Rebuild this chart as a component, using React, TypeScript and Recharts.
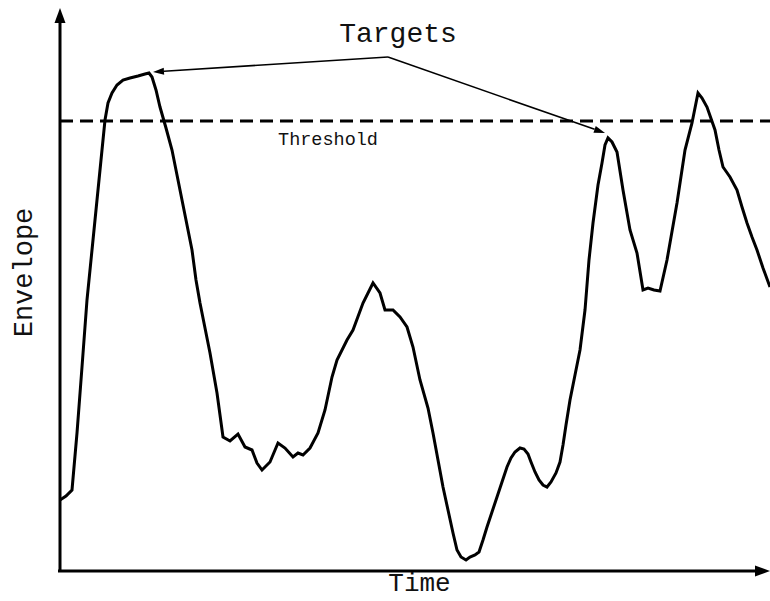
import React from 'react';
import { ComposedChart, Line, XAxis, YAxis, ReferenceLine, ReferenceDot } from 'recharts';

// Time samples (arbitrary units) and envelope amplitude
const time = [
  0, 6, 12, 17, 22, 27, 32, 37, 41, 45, 48, 52, 57, 63, 70, 78, 85, 89, 92, 96,
  100, 106, 112, 117, 122, 127, 132, 136, 140, 145, 150, 157, 160, 163, 170, 178, 185, 192, 197, 202,
  210, 218, 225, 233, 238, 243, 250, 258, 265, 272, 277, 287, 293, 303, 313, 320, 325, 333, 340, 347,
  353, 360, 368, 373, 378, 383, 388, 393, 397, 401, 406, 410, 415, 419, 423, 427, 432, 437, 442, 447,
  451, 455, 460, 464, 468, 471, 475, 479, 483, 487, 491, 496, 500, 503, 506, 510, 515, 520, 525, 529,
  533, 538, 542, 545, 548, 552, 557, 563, 570, 577, 583, 588, 594, 600, 607, 617, 625, 632, 638, 642,
  647, 655, 659, 663, 670, 677, 682, 687, 692, 697, 703, 710,
];
const envelope = [
  71, 75, 81, 138, 204, 271, 321, 371, 411, 451, 468, 478, 486, 491, 493, 495, 497, 498, 494, 481,
  464, 443, 421, 396, 371, 346, 321, 291, 268, 243, 218, 178, 156, 134, 130, 137, 124, 121, 108, 101,
  109, 128, 123, 114, 118, 116, 123, 138, 161, 194, 211, 231, 241, 268, 288, 278, 261, 261, 254, 244,
  224, 191, 163, 138, 111, 84, 61, 38, 21, 14, 11, 14, 16, 19, 31, 44, 59, 74, 89, 104,
  113, 119, 123, 122, 117, 109, 99, 91, 86, 84, 89, 98, 109, 126, 146, 171, 196, 221, 261, 311,
  348, 386, 408, 426, 433, 429, 419, 381, 341, 318, 281, 283, 281, 280, 311, 368, 421, 448, 478, 473,
  464, 441, 421, 404, 394, 381, 364, 348, 334, 321, 303, 284,
];

const thresholdLevel = 450;
const timeMax = 710;
const envelopeMax = 563;

// Annotation arrows: common start, tips pointing at the two targets
const targetArrowStart = { t: 328, e: 514 };
const targetArrowTips = [
  { t: 93, e: 499 },
  { t: 545, e: 438 },
];

const titleText = 'Targets';
const thresholdText = 'Threshold';
const xAxisText = 'Time';
const yAxisText = 'Envelope';

const data = time.map((t, i) => ({ time: t, envelope: envelope[i] }));

const mono = "'Liberation Mono', 'Courier New', Courier, monospace";

const makeArrow = (width: number, headLen: number, headHalf: number) => (props: any) => {
  const { x1, y1, x2, y2 } = props;
  const ang = Math.atan2(y2 - y1, x2 - x1);
  const bx = x2 - headLen * Math.cos(ang);
  const by = y2 - headLen * Math.sin(ang);
  const px = -Math.sin(ang) * headHalf;
  const py = Math.cos(ang) * headHalf;
  return (
    <g>
      <line x1={x1} y1={y1} x2={bx} y2={by} stroke="#000" strokeWidth={width} />
      <polygon
        points={`${x2},${y2} ${bx + px},${by + py} ${bx - px},${by - py}`}
        fill="#000"
      />
    </g>
  );
};

const axisArrow = makeArrow(3, 15, 5.5);
const pointerArrow = makeArrow(1.6, 11, 3.5);

export default function App() {
  return (
    <div style={{ position: 'absolute', left: 0, top: 0, background: '#fff' }}>
      <ComposedChart
        width={770}
        height={601}
        data={data}
        margin={{ top: 8, right: 0, bottom: 30, left: 60 }}
      >
        <XAxis type="number" dataKey="time" domain={[0, timeMax]} hide allowDataOverflow />
        <YAxis type="number" domain={[0, envelopeMax]} hide allowDataOverflow />

        <ReferenceLine
          y={thresholdLevel}
          stroke="#000"
          strokeWidth={3}
          strokeDasharray="13 7"
          ifOverflow="visible"
        />

        <Line
          type="linear"
          dataKey="envelope"
          stroke="#000"
          strokeWidth={3}
          dot={false}
          isAnimationActive={false}
        />

        {/* axes with arrowheads */}
        <ReferenceLine
          segment={[{ x: -2, y: 0 }, { x: timeMax, y: 0 }]}
          ifOverflow="visible"
          shape={axisArrow}
        />
        <ReferenceLine
          segment={[{ x: 0, y: -1 }, { x: 0, y: envelopeMax }]}
          ifOverflow="visible"
          shape={axisArrow}
        />

        {/* target pointers */}
        {targetArrowTips.map((tip, i) => (
          <ReferenceLine
            key={i}
            segment={[{ x: targetArrowStart.t, y: targetArrowStart.e }, { x: tip.t, y: tip.e }]}
            ifOverflow="visible"
            shape={pointerArrow}
          />
        ))}

        <ReferenceDot
          x={338}
          y={539}
          r={0}
          fill="none"
          stroke="none"
          ifOverflow="visible"
          label={{ value: titleText, position: 'center', fontSize: 28, fontFamily: mono, fill: '#111' }}
        />
        <ReferenceDot
          x={268}
          y={433}
          r={0}
          fill="none"
          stroke="none"
          ifOverflow="visible"
          label={{ value: thresholdText, position: 'center', fontSize: 18.5, fontFamily: mono, fill: '#111' }}
        />
        <ReferenceDot
          x={359.5}
          y={-11}
          r={0}
          fill="none"
          stroke="none"
          ifOverflow="visible"
          label={{ value: xAxisText, position: 'center', fontSize: 26, fontFamily: mono, fill: '#111' }}
        />
        <ReferenceDot
          x={-38}
          y={298.5}
          r={0}
          fill="none"
          stroke="none"
          ifOverflow="visible"
          label={{ value: yAxisText, position: 'center', angle: -90, fontSize: 27, fontFamily: mono, fill: '#111' }}
        />
      </ComposedChart>
    </div>
  );
}
